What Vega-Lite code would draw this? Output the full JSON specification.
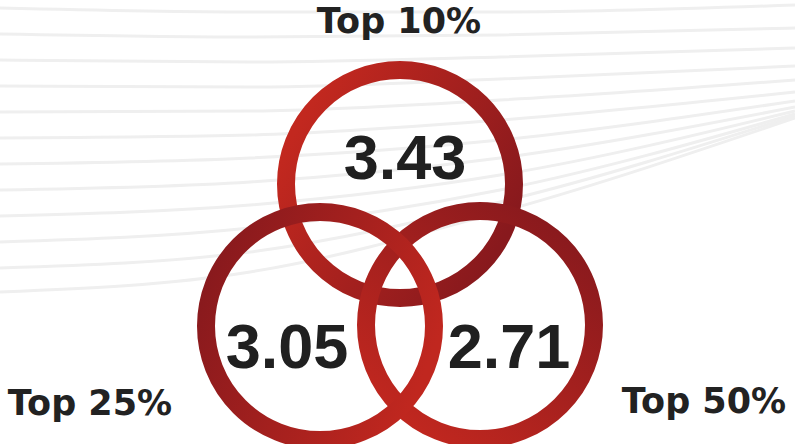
{
  "$schema": "https://vega.github.io/schema/vega-lite/v6.json",
  "width": 795,
  "height": 444,
  "padding": 0,
  "autosize": "none",
  "background": "#ffffff",
  "config": {"view": {"stroke": null}},
  "datasets": {
    "lines": [
      {"line": 0, "px": 0, "py": 8}, {"line": 0, "px": 250, "py": 12}, {"line": 0, "px": 500, "py": 12}, {"line": 0, "px": 795, "py": 5},
      {"line": 1, "px": 0, "py": 34}, {"line": 1, "px": 250, "py": 37}, {"line": 1, "px": 500, "py": 35}, {"line": 1, "px": 795, "py": 28},
      {"line": 2, "px": 0, "py": 60}, {"line": 2, "px": 250, "py": 62}, {"line": 2, "px": 500, "py": 57}, {"line": 2, "px": 795, "py": 48},
      {"line": 3, "px": 0, "py": 86}, {"line": 3, "px": 250, "py": 87}, {"line": 3, "px": 500, "py": 79}, {"line": 3, "px": 795, "py": 66},
      {"line": 4, "px": 0, "py": 112}, {"line": 4, "px": 250, "py": 111}, {"line": 4, "px": 500, "py": 100}, {"line": 4, "px": 795, "py": 80},
      {"line": 5, "px": 0, "py": 138}, {"line": 5, "px": 250, "py": 135}, {"line": 5, "px": 500, "py": 120}, {"line": 5, "px": 795, "py": 92},
      {"line": 6, "px": 0, "py": 164}, {"line": 6, "px": 250, "py": 158}, {"line": 6, "px": 500, "py": 140}, {"line": 6, "px": 795, "py": 101},
      {"line": 7, "px": 0, "py": 190}, {"line": 7, "px": 250, "py": 182}, {"line": 7, "px": 500, "py": 158}, {"line": 7, "px": 795, "py": 107},
      {"line": 8, "px": 0, "py": 216}, {"line": 8, "px": 250, "py": 205}, {"line": 8, "px": 500, "py": 175}, {"line": 8, "px": 795, "py": 111},
      {"line": 9, "px": 0, "py": 242}, {"line": 9, "px": 250, "py": 228}, {"line": 9, "px": 500, "py": 190}, {"line": 9, "px": 795, "py": 114},
      {"line": 10, "px": 0, "py": 268}, {"line": 10, "px": 250, "py": 252}, {"line": 10, "px": 500, "py": 202}, {"line": 10, "px": 795, "py": 116},
      {"line": 11, "px": 0, "py": 292}, {"line": 11, "px": 250, "py": 272}, {"line": 11, "px": 500, "py": 212}, {"line": 11, "px": 795, "py": 118}
    ],
    "circles": [
      {"group": "Top 10%", "cx": 400, "cy": 184},
      {"group": "Top 25%", "cx": 320, "cy": 326},
      {"group": "Top 50%", "cx": 480, "cy": 325}
    ],
    "values": [
      {"group": "Top 10%", "value": "3.43", "tx": 405, "ty": 179},
      {"group": "Top 25%", "value": "3.05", "tx": 287, "ty": 368},
      {"group": "Top 50%", "value": "2.71", "tx": 509, "ty": 368}
    ],
    "labels": [
      {"label": "Top 10%", "lx": 399, "ly": 33},
      {"label": "Top 25%", "lx": 90, "ly": 415},
      {"label": "Top 50%", "lx": 704, "ly": 413}
    ]
  },
  "layer": [
    {
      "data": {"name": "lines"},
      "mark": {"type": "line", "interpolate": "monotone", "stroke": "#efefef", "strokeWidth": 3},
      "encoding": {
        "x": {"field": "px", "type": "quantitative", "scale": {"domain": [0, 795], "nice": false, "zero": false}, "axis": null},
        "y": {"field": "py", "type": "quantitative", "scale": {"domain": [444, 0], "nice": false, "zero": false}, "axis": null},
        "detail": {"field": "line", "type": "nominal"}
      }
    },
    {
      "data": {"name": "circles"},
      "transform": [{"filter": "datum.group === 'Top 10%'"}],
      "mark": {"type": "point", "shape": "circle", "filled": false, "size": 51984, "strokeWidth": 18, "opacity": 1,
        "stroke": {"gradient": "linear", "x1": 0.05, "y1": 0.25, "x2": 0.95, "y2": 0.75,
          "stops": [{"offset": 0, "color": "#c2281f"}, {"offset": 1, "color": "#88191d"}]}},
      "encoding": {
        "x": {"field": "cx", "type": "quantitative", "scale": {"domain": [0, 795], "nice": false, "zero": false}, "axis": null},
        "y": {"field": "cy", "type": "quantitative", "scale": {"domain": [444, 0], "nice": false, "zero": false}, "axis": null}
      }
    },
    {
      "data": {"name": "circles"},
      "transform": [{"filter": "datum.group === 'Top 50%'"}],
      "mark": {"type": "point", "shape": "circle", "filled": false, "size": 51984, "strokeWidth": 18, "opacity": 1,
        "stroke": {"gradient": "linear", "x1": 0.9, "y1": 0.05, "x2": 0.2, "y2": 0.95,
          "stops": [{"offset": 0, "color": "#87191d"}, {"offset": 1, "color": "#c0271f"}]}},
      "encoding": {
        "x": {"field": "cx", "type": "quantitative", "scale": {"domain": [0, 795], "nice": false, "zero": false}, "axis": null},
        "y": {"field": "cy", "type": "quantitative", "scale": {"domain": [444, 0], "nice": false, "zero": false}, "axis": null}
      }
    },
    {
      "data": {"name": "circles"},
      "transform": [{"filter": "datum.group === 'Top 25%'"}],
      "mark": {"type": "point", "shape": "circle", "filled": false, "size": 51984, "strokeWidth": 18, "opacity": 1,
        "stroke": {"gradient": "linear", "x1": 0.0, "y1": 0.2, "x2": 1.0, "y2": 0.6,
          "stops": [{"offset": 0, "color": "#87191d"}, {"offset": 1, "color": "#c0271f"}]}},
      "encoding": {
        "x": {"field": "cx", "type": "quantitative", "scale": {"domain": [0, 795], "nice": false, "zero": false}, "axis": null},
        "y": {"field": "cy", "type": "quantitative", "scale": {"domain": [444, 0], "nice": false, "zero": false}, "axis": null}
      }
    },
    {
      "data": {"name": "values"},
      "mark": {"type": "text", "font": "Liberation Sans", "fontWeight": "bold", "fontSize": 63, "align": "center", "baseline": "alphabetic", "color": "#202020"},
      "encoding": {
        "x": {"field": "tx", "type": "quantitative", "scale": {"domain": [0, 795], "nice": false, "zero": false}, "axis": null},
        "y": {"field": "ty", "type": "quantitative", "scale": {"domain": [444, 0], "nice": false, "zero": false}, "axis": null},
        "text": {"field": "value", "type": "nominal"}
      }
    },
    {
      "data": {"name": "labels"},
      "mark": {"type": "text", "font": "DejaVu Sans", "fontWeight": "bold", "fontSize": 35, "align": "center", "baseline": "alphabetic", "color": "#222222"},
      "encoding": {
        "x": {"field": "lx", "type": "quantitative", "scale": {"domain": [0, 795], "nice": false, "zero": false}, "axis": null},
        "y": {"field": "ly", "type": "quantitative", "scale": {"domain": [444, 0], "nice": false, "zero": false}, "axis": null},
        "text": {"field": "label", "type": "nominal"}
      }
    }
  ]
}
